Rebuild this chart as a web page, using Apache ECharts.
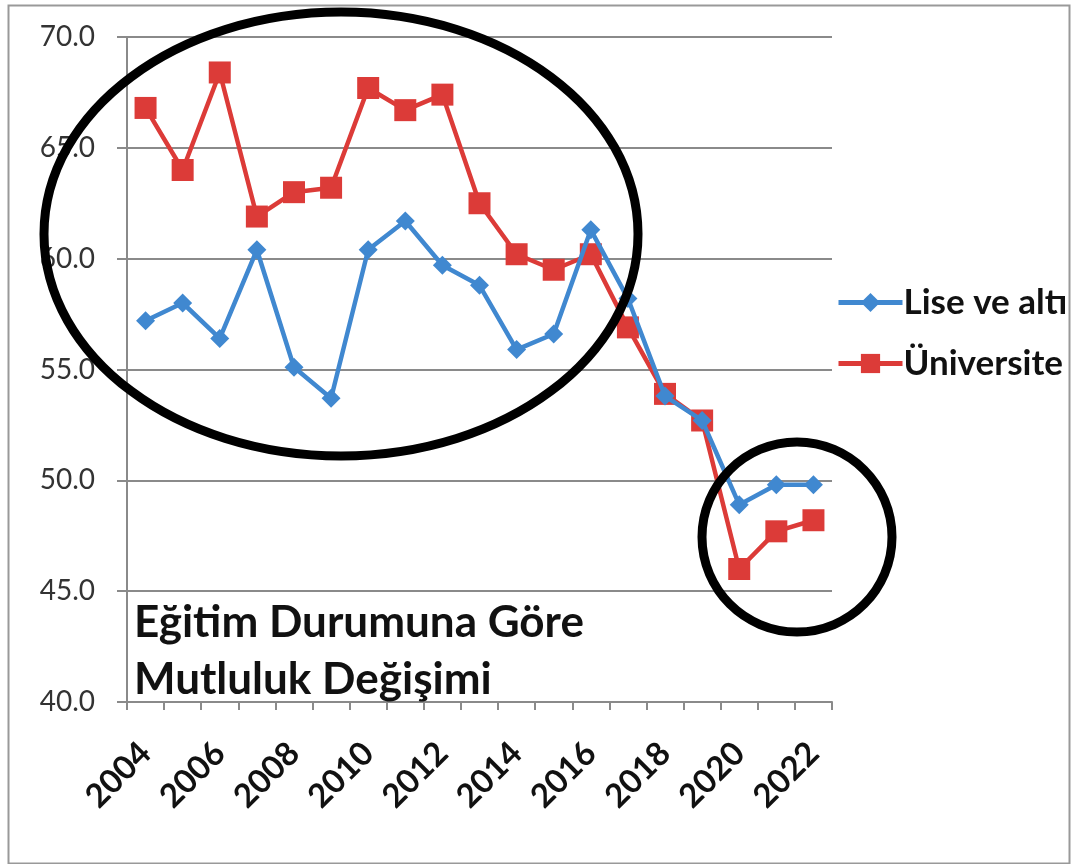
<!DOCTYPE html>
<html>
<head>
<meta charset="utf-8">
<script src="https://cdn.jsdelivr.net/npm/echarts@6/dist/echarts.min.js"></script>
<style>
html,body{margin:0;padding:0;background:#fff;}
#chart{width:1073px;height:864px;}
</style>
</head>
<body>
<div id="chart"></div>
<script>
const years = ['2004','2005','2006','2007','2008','2009','2010','2011','2012','2013','2014','2015','2016','2017','2018','2019','2020','2021','2022'];
const liseVeAlti = [57.2, 58.0, 56.4, 60.4, 55.1, 53.7, 60.4, 61.7, 59.7, 58.8, 55.9, 56.6, 61.3, 58.2, 53.8, 52.7, 48.9, 49.8, 49.8];
const universite = [66.8, 64.0, 68.4, 61.9, 63.0, 63.2, 67.7, 66.7, 67.4, 62.5, 60.2, 59.5, 60.2, 56.9, 53.9, 52.7, 46.0, 47.7, 48.2];
const seriesNames = ['Lise ve altı', 'Üniversite'];
const titleText = 'Eğitim Durumuna Göre\nMutluluk Değişimi';

const chart = echarts.init(document.getElementById('chart'));
const font = 'Lato, "Open Sans", sans-serif';
chart.setOption({
  animation: false,
  backgroundColor: '#fff',
  textStyle: { fontFamily: font },
  grid: { left: 127, right: 241, top: 37, bottom: 162 },
  legend: {
    orient: 'vertical',
    left: 831,
    top: 280,
    itemWidth: 64,
    itemHeight: 24,
    itemGap: 26,
    lineStyle: { width: 5 },
    textStyle: { fontFamily: font, fontWeight: 'bold', fontSize: 35, color: '#111', padding: [0,0,0,-4] },
    data: seriesNames
  },
  xAxis: {
    type: 'category',
    data: years,
    boundaryGap: true,
    axisLine: { lineStyle: { color: '#8a8a8a', width: 2 } },
    axisTick: { show: true, interval: 0, length: 8, lineStyle: { color: '#8a8a8a', width: 2 } },
    axisLabel: { interval: 1, rotate: 45, fontFamily: font, fontWeight: 'bold', fontSize: 33, color: '#111', margin: 46 },
    splitLine: { show: false }
  },
  yAxis: {
    type: 'value',
    min: 40, max: 70, interval: 5,
    axisLine: { show: true, lineStyle: { color: '#8a8a8a', width: 2 } },
    axisTick: { show: true, length: 10, lineStyle: { color: '#8a8a8a', width: 2 } },
    axisLabel: { formatter: v => v.toFixed(1), fontFamily: font, fontSize: 28, color: '#333', margin: 32 },
    splitLine: { lineStyle: { color: '#8a8a8a', width: 2 } }
  },
  series: [
    {
      name: seriesNames[0], type: 'line', data: liseVeAlti,
      symbol: 'diamond', symbolSize: 19,
      lineStyle: { color: '#4088d0', width: 4.5 },
      itemStyle: { color: '#4088d0' },
      z: 3
    },
    {
      name: seriesNames[1], type: 'line', data: universite,
      symbol: 'rect', symbolSize: 22,
      lineStyle: { color: '#dc3b38', width: 4.5 },
      itemStyle: { color: '#dc3b38' },
      z: 2
    }
  ],
  graphic: [
    { type: 'rect', left: 6, top: 3, z: -10, silent: true,
      shape: { width: 1061, height: 858 }, style: { fill: 'none', stroke: '#999', lineWidth: 2 } },
    { type: 'text', left: 134, top: 594, z: 10,
      style: { text: titleText, fontFamily: font, fontWeight: 'bold', fontSize: 44, lineHeight: 57, fill: '#111' } },
    { type: 'ellipse', z: 20, silent: true,
      shape: { cx: 341, cy: 234, rx: 297, ry: 222 },
      style: { fill: 'none', stroke: '#000', lineWidth: 9 } },
    { type: 'ellipse', z: 20, silent: true,
      shape: { cx: 797, cy: 537, rx: 95, ry: 95 },
      style: { fill: 'none', stroke: '#000', lineWidth: 9 } }
  ]
});
</script>
</body>
</html>
